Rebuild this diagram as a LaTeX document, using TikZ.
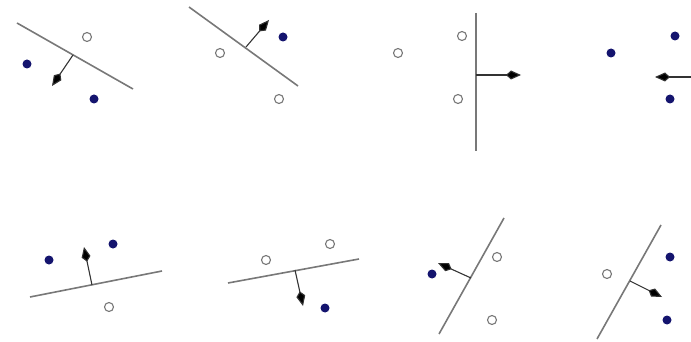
\documentclass[tikz,border=0pt]{standalone}
\usetikzlibrary{arrows.meta}
\definecolor{navy}{RGB}{20,20,110}
\definecolor{linegray}{RGB}{120,120,120}

\begin{document}
\begin{tikzpicture}[
  x=1pt, y=-1pt,
  % Estilos de puntos
  filled/.style={circle, fill=navy, inner sep=0pt, minimum size=9pt},
  hollow/.style={circle, draw=linegray, fill=white, line width=1.1pt, inner sep=0pt, minimum size=9pt},
  % Estilos de lineas
  boundary/.style={draw=linegray, line width=1.6pt},
  normalvec/.style={draw=black!80, -{Kite[length=15pt, width=9pt, inset=5pt, fill=black]}, line width=1.1pt}
]
  \clip (0,0) rectangle (691,342);

  % ==========================================
  % UPPER ROW
  % ==========================================
  % Panel 1
  \coordinate (a1) at (17,23);
  \coordinate (b1) at (133,89);
  \coordinate (o1) at (73,55);
  \coordinate (t1) at (52,86);
  \draw[boundary] (a1) -- (b1);
  \node[hollow] (p1a) at (87,37) {};
  \node[filled] (p1b) at (27,64) {};
  \node[filled] (p1c) at (94,99) {};
  \draw[normalvec] (o1) -- (t1);

  % Panel 2
  \coordinate (a2) at (189,7);
  \coordinate (b2) at (298,86);
  \coordinate (o2) at (246,47);
  \coordinate (t2) at (269,20);
  \draw[boundary] (a2) -- (b2);
  \node[filled] (p2a) at (283,37) {};
  \node[hollow] (p2b) at (220,53) {};
  \node[hollow] (p2c) at (279,99) {};
  \draw[normalvec] (o2) -- (t2);

  % Panel 3
  \coordinate (a3) at (476,13);
  \coordinate (b3) at (476,151);
  \coordinate (o3) at (476,75);
  \coordinate (t3) at (521,75);
  \draw[boundary] (a3) -- (b3);
  \node[hollow] (p3a) at (462,36) {};
  \node[hollow] (p3b) at (398,53) {};
  \node[hollow] (p3c) at (458,99) {};
  \draw[normalvec] (o3) -- (t3);

  % Panel 4 (cut at the right edge)
  \coordinate (o4) at (702,77);
  \coordinate (t4) at (655,77);
  \node[filled] (p4a) at (611,53) {};
  \node[filled] (p4b) at (675,36) {};
  \node[filled] (p4c) at (670,99) {};
  \draw[normalvec] (o4) -- (t4);

  % ==========================================
  % LOWER ROW
  % ==========================================
  % Panel 5
  \coordinate (a5) at (30,297);
  \coordinate (b5) at (162,271);
  \coordinate (o5) at (92,285);
  \coordinate (t5) at (84,247);
  \draw[boundary] (a5) -- (b5);
  \node[filled] (p5a) at (49,260) {};
  \node[filled] (p5b) at (113,244) {};
  \node[hollow] (p5c) at (109,307) {};
  \draw[normalvec] (o5) -- (t5);

  % Panel 6
  \coordinate (a6) at (228,283);
  \coordinate (b6) at (359,259);
  \coordinate (o6) at (295,270);
  \coordinate (t6) at (303,306);
  \draw[boundary] (a6) -- (b6);
  \node[hollow] (p6a) at (266,260) {};
  \node[hollow] (p6b) at (330,244) {};
  \node[filled] (p6c) at (325,308) {};
  \draw[normalvec] (o6) -- (t6);

  % Panel 7
  \coordinate (a7) at (504,218);
  \coordinate (b7) at (439,334);
  \coordinate (o7) at (471,278);
  \coordinate (t7) at (438,263);
  \draw[boundary] (a7) -- (b7);
  \node[filled] (p7a) at (432,274) {};
  \node[hollow] (p7b) at (497,257) {};
  \node[hollow] (p7c) at (492,320) {};
  \draw[normalvec] (o7) -- (t7);

  % Panel 8
  \coordinate (a8) at (661,225);
  \coordinate (b8) at (597,339);
  \coordinate (o8) at (630,281);
  \coordinate (t8) at (662,297);
  \draw[boundary] (a8) -- (b8);
  \node[hollow] (p8a) at (607,274) {};
  \node[filled] (p8b) at (670,257) {};
  \node[filled] (p8c) at (667,320) {};
  \draw[normalvec] (o8) -- (t8);

\end{tikzpicture}
\end{document}
